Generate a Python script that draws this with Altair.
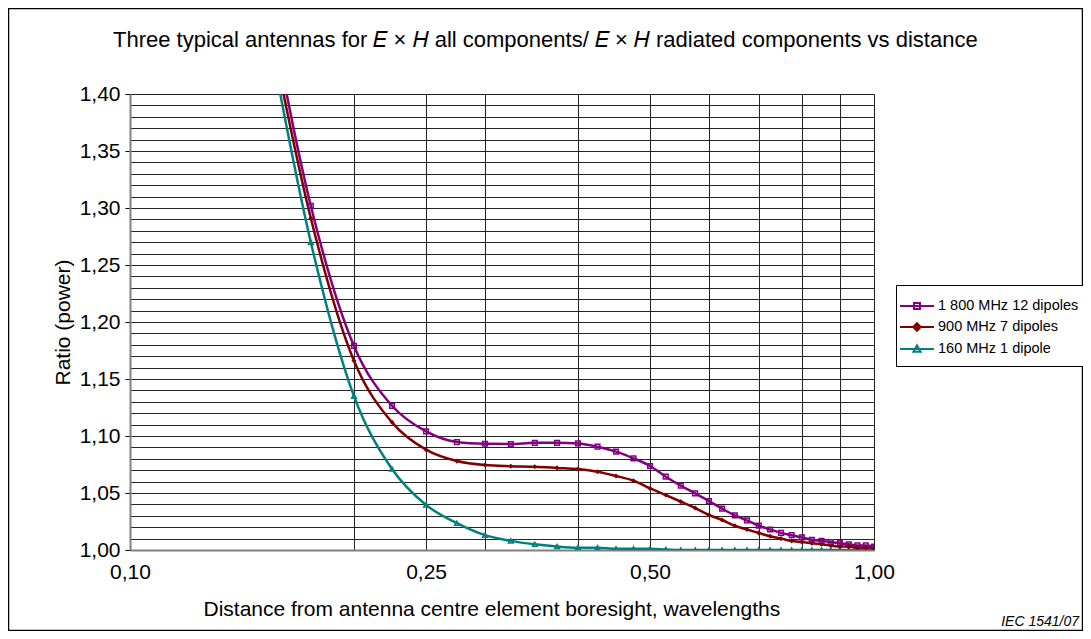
import altair as alt
import pandas as pd

distance = [0.15, 0.175, 0.2, 0.225, 0.25, 0.275, 0.3, 0.325, 0.35, 0.375,
            0.4, 0.425, 0.45, 0.475, 0.5, 0.525, 0.55, 0.575, 0.6, 0.625,
            0.65, 0.675, 0.7, 0.725, 0.75, 0.775, 0.8, 0.825, 0.85, 0.875,
            0.9, 0.925, 0.95, 0.975, 1.0]

ratio_1800 = [1.52, 1.302, 1.179, 1.1265, 1.104, 1.0947, 1.0932, 1.093, 1.094, 1.094,
              1.0935, 1.0906, 1.0863, 1.0804, 1.0737, 1.0643, 1.0564, 1.0497, 1.043, 1.0363,
              1.0304, 1.026, 1.0213, 1.018, 1.015, 1.013, 1.011, 1.009, 1.008, 1.007,
              1.006, 1.005, 1.004, 1.004, 1.003]

ratio_900 = [1.50, 1.291, 1.166, 1.112, 1.088, 1.078, 1.0745, 1.0735, 1.073, 1.072,
             1.071, 1.0687, 1.0649, 1.0608, 1.054, 1.0482, 1.0424, 1.0368, 1.0307, 1.0263,
             1.0213, 1.018, 1.015, 1.012, 1.010, 1.008, 1.007, 1.006, 1.005, 1.004,
             1.003, 1.003, 1.002, 1.002, 1.001]

ratio_160 = [1.49, 1.27, 1.135, 1.071, 1.0395, 1.0235, 1.013, 1.008, 1.005, 1.003,
             1.002, 1.002, 1.001, 1.001, 1.001, 1.0005, 1.0, 1.0, 1.0, 1.0,
             1.0, 1.0, 1.0, 1.0, 1.0, 1.0, 1.0, 1.0, 1.0, 1.0,
             1.0, 1.0, 1.0, 1.0, 1.0]

series_names = ["1\u00a0800 MHz 12 dipoles", "\u00a0\u00a0900 MHz 7 dipoles", "\u00a0\u00a0160 MHz 1 dipole"]
series_colors = ["#800080", "#800000", "#008080"]
point_shapes = ["square", "diamond", "triangle-up"]
legend_shapes = [
    "M-1.7,0H1.7M-0.3,-0.3H0.3V0.3H-0.3Z",
    "M-1.7,0H1.7M0,-0.38L0.38,0L0,0.38L-0.38,0ZM0,-0.2L0.2,0L0,0.2L-0.2,0Z",
    "M-1.7,0H1.7M0,-0.36L0.36,0.28H-0.36Z",
]

title_text = ("Three typical antennas for \U0001D438 \u00d7 \U0001D43B all components/ "
              "\U0001D438 \u00d7 \U0001D43B radiated components vs distance")
x_title = "Distance from antenna centre element boresight, wavelengths"
y_title = "Ratio (power)"
credit_text = "IEC  1541/07"

x_grid = [0.1, 0.2, 0.25, 0.3, 0.4, 0.5, 0.6, 0.7, 0.8, 0.9, 1.0]
y_grid = [1.00, 1.01, 1.02, 1.03, 1.04, 1.05, 1.06, 1.07, 1.08, 1.09, 1.10,
          1.11, 1.12, 1.13, 1.14, 1.15, 1.16, 1.17, 1.18, 1.19, 1.20,
          1.21, 1.22, 1.23, 1.24, 1.25, 1.26, 1.27, 1.28, 1.29, 1.30,
          1.31, 1.32, 1.33, 1.34, 1.35, 1.36, 1.37, 1.38, 1.39, 1.40]

rows = []
for name, vals in zip(series_names, [ratio_1800, ratio_900, ratio_160]):
    for d, v in zip(distance, vals):
        rows.append({"distance": d, "ratio": v, "series": name})
df = pd.DataFrame(rows)

legend_df = pd.DataFrame({"series": series_names, "distance": [0.5] * 3, "ratio": [2.0] * 3})
dummy = pd.DataFrame({"a": [0]})

FONT = "Liberation Sans"
major = "abs(datum.value*20 - round(datum.value*20)) < 0.001"

x_axis = alt.Axis(
    values=x_grid, grid=True, gridColor="#000", gridOpacity=0.85, gridWidth=1,
    ticks=False, domainColor="#808080", domainWidth=2,
    labelExpr="(datum.value == 0.1 || datum.value == 0.25 || datum.value == 0.5 || datum.value == 1) ? replace(format(datum.value, '.2f'), '.', ',') : ''",
    labelFont=FONT, labelFontSize=21, labelColor="#000", labelPadding=11,
    labelFlush=False, labelOverlap=False,
    title=x_title,
    titleFont=FONT, titleFontSize=21, titleFontWeight="normal", titleColor="#000",
    titleAlign="left", titleAnchor="start", titleX=73, titleY=48,
)
y_axis = alt.Axis(
    values=y_grid, grid=True, gridColor="#000", gridOpacity=0.85, gridWidth=1,
    tickSize=5, tickColor="#000",
    tickOpacity={"condition": {"test": major, "value": 1}, "value": 0},
    domainColor="#808080", domainWidth=2,
    labelExpr=major + " ? replace(format(datum.value, '.2f'), '.', ',') : ''",
    labelFont=FONT, labelFontSize=21, labelColor="#000", labelPadding=5,
    labelFlush=False, labelOverlap=False,
    title=y_title, titleFont=FONT, titleFontSize=21, titleFontWeight="normal",
    titleColor="#000", titleX=-67, titleY=228, titleBaseline="middle",
)

xenc = alt.X("distance:Q", scale=alt.Scale(type="log", domain=[0.1, 1.0], nice=False), axis=x_axis)
yenc = alt.Y("ratio:Q", scale=alt.Scale(domain=[1.0, 1.4], nice=False, zero=False), axis=y_axis)
color_scale = alt.Scale(domain=series_names, range=series_colors)

lines = alt.Chart(df).mark_line(strokeWidth=2.5, clip=True, interpolate="monotone").encode(
    x=xenc, y=yenc,
    color=alt.Color("series:N", scale=color_scale, legend=None),
    detail="series:N",
)

hollow = alt.Chart(df).transform_filter(
    alt.FieldOneOfPredicate(field="series", oneOf=[series_names[0], series_names[2]])
).mark_point(filled=False, size=22, strokeWidth=1.5, clip=True, opacity=1).encode(
    x=xenc, y=yenc,
    color=alt.Color("series:N", scale=color_scale, legend=None),
    shape=alt.Shape("series:N", scale=alt.Scale(domain=series_names, range=point_shapes), legend=None),
)

filled = alt.Chart(df).transform_filter(
    alt.FieldEqualPredicate(field="series", equal=series_names[1])
).mark_point(filled=True, size=26, clip=True, opacity=1).encode(
    x=xenc, y=yenc,
    color=alt.Color("series:N", scale=color_scale, legend=None),
    shape=alt.Shape("series:N", scale=alt.Scale(domain=series_names, range=point_shapes), legend=None),
)

leg = alt.Legend(
    title=None, orient="none", legendX=766, legendY=191,
    strokeColor="#000", fillColor="#fff", padding=10,
    labelFont=FONT, labelFontSize=14.5, labelColor="#000", labelOffset=10,
    symbolSize=400, symbolStrokeWidth=2, rowPadding=3,
)
legend_layer = alt.Chart(legend_df).mark_point(filled=False, clip=True, strokeWidth=2, opacity=1).encode(
    x=xenc, y=yenc,
    color=alt.Color("series:N", scale=color_scale, legend=leg),
    shape=alt.Shape("series:N", scale=alt.Scale(domain=series_names, range=legend_shapes), legend=leg),
)

frame = alt.Chart(dummy).mark_rect(filled=False, stroke="#000", strokeWidth=1.5, clip=False).encode(
    x=alt.value(-121.5), x2=alt.value(952.5), y=alt.value(-85.5), y2=alt.value(536.5)
)

title = alt.Chart(dummy).mark_text(
    align="left", baseline="alphabetic", font=FONT, fontSize=22, color="#000", clip=False
).encode(x=alt.value(-17), y=alt.value(-47), text=alt.value(title_text))

credit = alt.Chart(dummy).mark_text(
    align="right", baseline="middle", font=FONT, fontSize=14, fontStyle="italic", color="#000", clip=False
).encode(x=alt.value(949), y=alt.value(528), text=alt.value(credit_text))

chart = alt.layer(lines, hollow, filled, legend_layer, frame, title, credit).resolve_scale(
    color="independent", shape="independent"
).properties(
    width=744, height=456,
    padding={"left": 122, "top": 86, "right": 209, "bottom": 81},
    autosize=alt.AutoSizeParams(type="none"),
).configure_view(stroke="#000", strokeWidth=1).configure(background="#fff")

chart.save("out.html", embed_options={"renderer": "svg", "actions": False})
